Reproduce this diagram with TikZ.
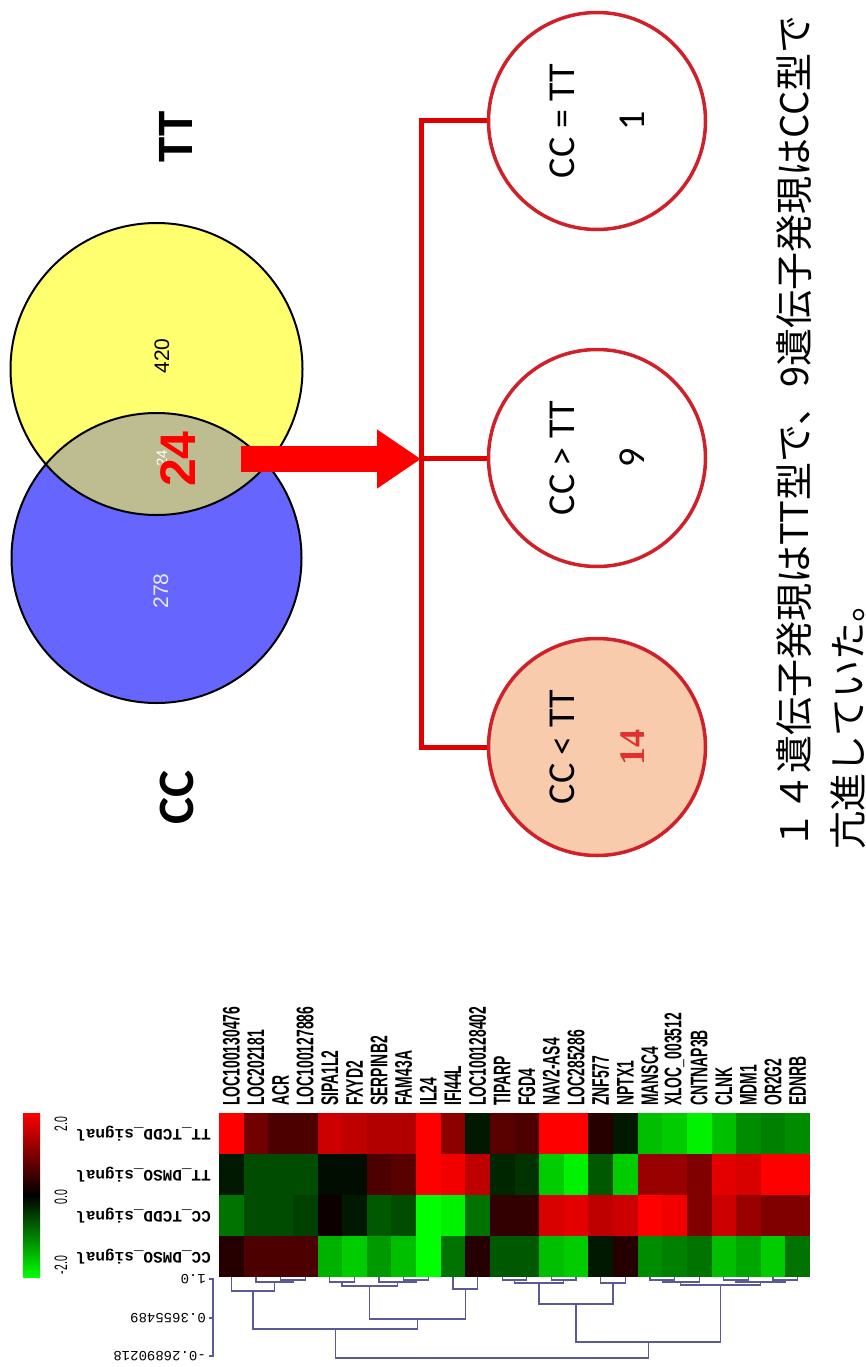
\documentclass[tikz,border=0pt]{standalone}
\usepackage{fontspec}
\setmainfont{Carlito}
\newfontfamily\lib{Liberation Sans}
\newfontfamily\narrow[FakeStretch=0.58]{Liberation Sans}
\newfontfamily\mono{Liberation Mono}
\newfontfamily\serifb{Liberation Serif}
\newfontfamily\jp{Noto Sans CJK JP}
\usetikzlibrary{arrows.meta}
\definecolor{vyel}{RGB}{255,255,112}
\definecolor{vblue}{RGB}{102,102,255}
\definecolor{vlens}{RGB}{190,188,145}
\definecolor{cred}{RGB}{208,32,42}
\definecolor{lred}{RGB}{224,0,0}
\definecolor{peach}{RGB}{248,203,173}
\definecolor{numred}{RGB}{224,48,48}
\definecolor{dendc}{RGB}{90,90,150}
\definecolor{wlab}{RGB}{235,235,255}
\newcommand\dendm[5]{\draw[dend] (#1,#2) |- (#3,#5) -- (#3,#4);}
\newcommand\hmrow[2]{%
  \foreach \v [count=\c] in {#2} {%
    \pgfmathtruncatemacro\a{abs(\v)}%
    \ifnum\v<0 \def\hue{green}\else\def\hue{red}\fi
    \fill[\hue!\a!black] ({219+24.625*(\c-1)},{1113+41*(#1-1)}) rectangle ({219+24.625*\c+0.4},{1113+41*#1+0.4});
  }}
\begin{document}
\begin{tikzpicture}[x=1pt,y=-1pt,
  vtxt/.style={rotate=90, inner sep=0pt},
  circ/.style={circle, draw=cred, line width=3.5pt, minimum size=217pt, inner sep=0pt,
    rotate=90, align=center, font=\fontsize{38}{46}\selectfont},
  branch/.style={draw=lred, line width=5pt, line join=miter},
  bigarrow/.style={draw=red, line width=26pt, -{Triangle[length=44pt,width=56pt]}},
  dend/.style={draw=dendc, line width=1.3pt},
  genelab/.style={rotate=90, anchor=west, inner sep=0pt, font=\narrow\bfseries\fontsize{24}{26}\selectfont},
  samplab/.style={rotate=180, anchor=west, inner sep=0pt, font=\mono\bfseries\fontsize{16}{18}\selectfont},
  axlab/.style={rotate=180, anchor=west, inner sep=0pt, font=\mono\fontsize{14}{16}\selectfont},
  keylab/.style={rotate=90, inner sep=0pt, font=\narrow\fontsize{18}{20}\selectfont}]
\useasboundingbox (0,0) rectangle (865,1367);
\fill[white] (0,0) rectangle (865,1367);

% ---------------- Venn diagram ----------------
\node[circle, fill=vyel, minimum size=292pt, inner sep=0pt] (yel) at (156.5,369) {};
\node[circle, fill=vblue, minimum size=290pt, inner sep=0pt] (blu) at (156.5,558) {};
\begin{scope}
  \clip (yel.center) circle (146pt);
  \fill[vlens] (blu.center) circle (145pt);
\end{scope}
\draw[line width=2pt] (yel.center) circle (146pt);
\draw[line width=2pt] (blu.center) circle (145pt);
\node[vtxt, font=\lib\fontsize{21}{24}\selectfont] (n420) at (162,356) {420};
\node[vtxt, font=\lib\fontsize{21}{24}\selectfont, text=wlab] (n278) at (161,591) {278};
\node[vtxt, font=\lib\fontsize{15}{16}\selectfont, text=white] (n24s) at (162,458) {24};
\node[vtxt, font=\lib\bfseries\fontsize{50}{56}\selectfont, text=red] (n24) at (178,459) {24};
\node[vtxt, font=\bfseries\fontsize{51}{60}\selectfont] (tTT) at (176,137) {TT};
\node[vtxt, font=\bfseries\fontsize{51}{60}\selectfont] (tCC) at (177,797) {CC};

% ---------------- result circles ----------------
\node[circ] (cEq) at (597,121) {CC = TT\\[24pt]1};
\node[circ] (cGt) at (597,458) {CC > TT\\[24pt]9};
\node[circ, fill=peach] (cLt) at (597,747) {CC < TT\\[24pt]{\serifb\bfseries\fontsize{36}{40}\selectfont\color{numred}14}};

\coordinate (bx) at (421,0);
\coordinate (aS) at (241,459);
\draw[branch] (cEq.north) -| (bx |- cLt.north) -- (cLt.north);
\draw[branch] (cGt.north) -- (bx |- cGt.north);
\draw[bigarrow] (aS) -- (bx |- aS);

% ---------------- Japanese note ----------------
\node[rotate=90, anchor=north west, align=left, inner sep=0pt,
  font=\jp\fontsize{38}{54}\selectfont] (note) at (776,850)
  {１４遺伝子発現はTT型で、9遺伝子発現はCC型で\\亢進していた。};

% ---------------- heatmap ----------------
\hmrow{1}{100,45,30,30,80,75,70,70,100,55,-10,35,30,100,100,15,-10,-75,-80,-95,-75,-55,-50,-55}
\hmrow{2}{-10,-30,-30,-30,-5,-5,30,35,100,95,75,-15,-20,-80,-95,-35,-80,60,60,50,90,85,100,100}
\hmrow{3}{-45,-30,-30,-25,5,-10,-35,-30,-100,-95,-45,20,20,85,90,75,80,100,95,50,80,60,50,50}
\hmrow{4}{15,30,30,30,-70,-80,-60,-75,-100,-45,15,-35,-35,-75,-80,-10,15,-55,-50,-45,-75,-65,-80,-45}

\foreach \g [count=\c] in {LOC100130476,LOC202181,ACR,LOC100127886,SIPA1L2,FXYD2,SERPINB2,FAM43A,IL24,IFI44L,LOC100128402,TIPARP,FGD4,NAV2-AS4,LOC285286,ZNF577,NPTX1,MANSC4,XLOC\_003512,CNTNAP3B,CLNK,MDM1,OR2G2,EDNRB}
  \node[genelab] (g\c) at ({219+24.625*(\c-0.5)},1106) {\g};

\node[samplab] (s1) at (211,1133.5) {TT\_TCDD\_signal};
\node[samplab] (s2) at (211,1174.5) {TT\_DMSO\_signal};
\node[samplab] (s3) at (211,1215.5) {CC\_TCDD\_signal};
\node[samplab] (s4) at (211,1256.5) {CC\_DMSO\_signal};

% colour key
\shade[top color=red, bottom color=green, middle color=black] (23,1113) rectangle (40,1277);
\node[keylab] (k1) at (61,1124) {2.0};
\node[keylab] (k2) at (61,1197) {0.0};
\node[keylab] (k3) at (61,1265) {-2.0};

% dendrogram axis
\draw[dend] (209,1279) -- (213,1279) -- (213,1356) -- (209,1356);
\draw[dend] (209,1318) -- (213,1318);
\node[axlab] (a1) at (206,1279) {1.0};
\node[axlab] (a2) at (206,1318) {0.3655489};
\node[axlab] (a3) at (206,1356) {-0.26890218};

% dendrogram
\dendm{280.56}{1277}{305.19}{1277}{1280}
\dendm{255.94}{1277}{292.9}{1280}{1282}
\dendm{231.31}{1277}{274.4}{1282}{1291}
\dendm{329.81}{1277}{354.44}{1277}{1282}
\dendm{403.69}{1277}{428.31}{1277}{1280}
\dendm{379.06}{1277}{416}{1280}{1282}
\dendm{342.1}{1282}{397.5}{1282}{1286}
\dendm{452.94}{1277}{477.56}{1277}{1289}
\dendm{369.8}{1286}{465.3}{1289}{1319}
\dendm{252.9}{1291}{417.5}{1319}{1329}
\dendm{502.19}{1277}{526.81}{1277}{1280}
\dendm{551.44}{1277}{576.06}{1277}{1280}
\dendm{514.5}{1280}{563.75}{1280}{1283}
\dendm{600.69}{1277}{625.31}{1277}{1283}
\dendm{539.1}{1283}{613}{1283}{1304}
\dendm{649.94}{1277}{674.56}{1277}{1280}
\dendm{662.25}{1280}{699.19}{1277}{1282}
\dendm{723.81}{1277}{748.44}{1277}{1280}
\dendm{773.06}{1277}{797.69}{1277}{1280}
\dendm{736.1}{1280}{785.4}{1280}{1282}
\dendm{680.7}{1282}{760.75}{1282}{1285}
\dendm{576}{1304}{720.7}{1285}{1342}
\dendm{335.2}{1329}{648.4}{1342}{1358}
\end{tikzpicture}
\end{document}
